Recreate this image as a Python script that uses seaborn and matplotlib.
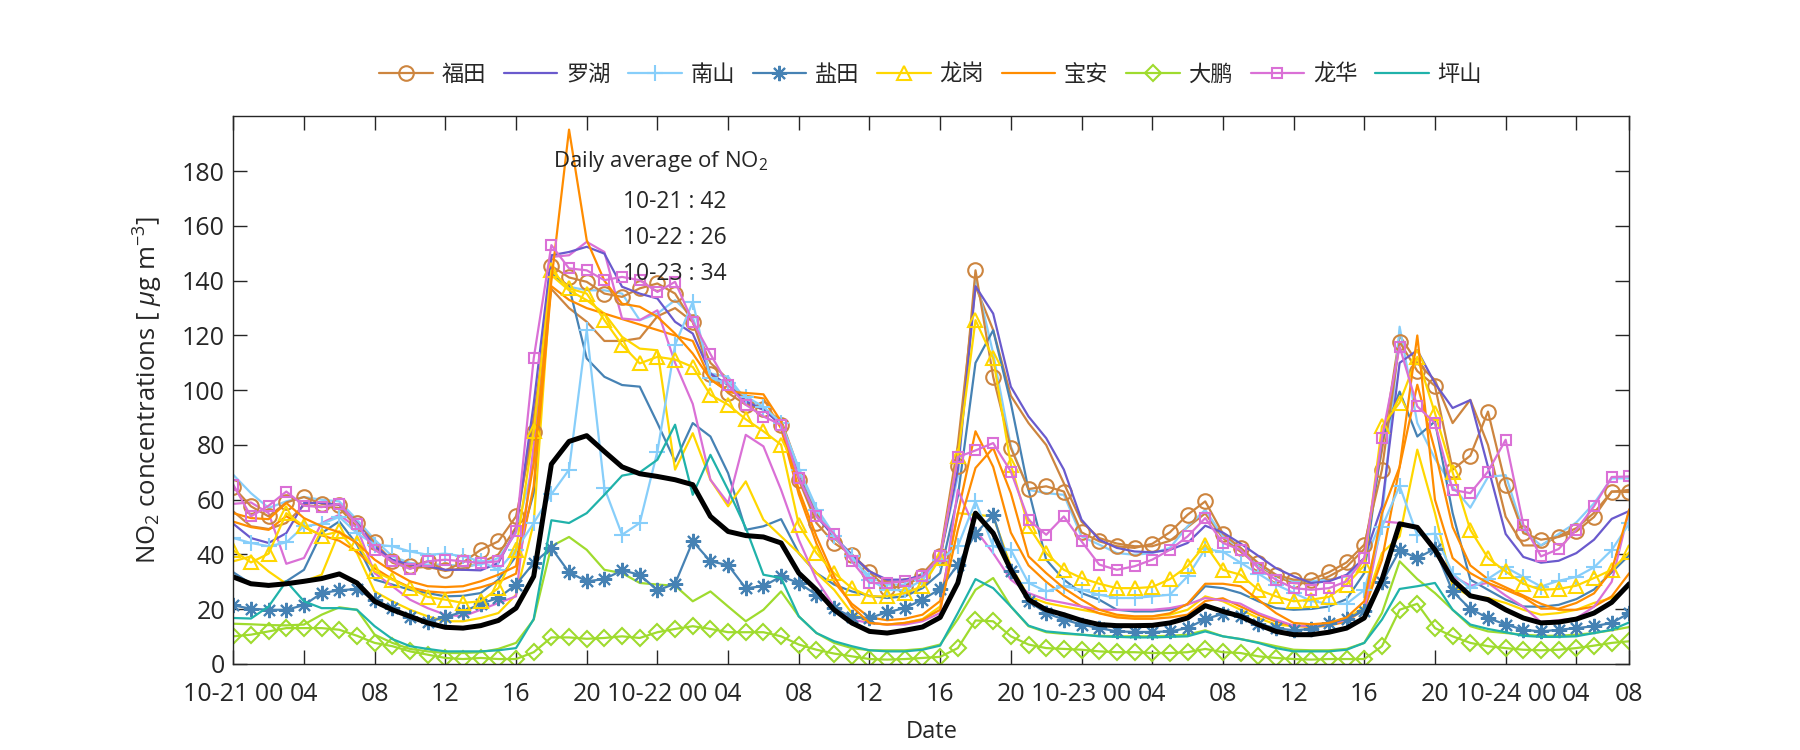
import matplotlib
matplotlib.use('Agg')
import matplotlib.pyplot as plt
from matplotlib import font_manager
import numpy as np
import seaborn as sns

# hourly NO2 (ug/m3), 10-21 00h .. 10-24 07h, one list per monitoring station
hours = list(range(80))

futian_1 = [64.6, 57.6, 53.9, 59.0, 61.0, 58.5, 58.2, 51.5, 44.4, 37.5, 35.7, 37.5, 34.2, 37.1, 41.7, 44.8, 53.9, 84.9, 145.4, 141.2, 139.6, 135.3, 134.1, 137.2,
            139.0, 135.3, 125.0, 106.1, 99.0, 94.7, 93.1, 87.4, 67.3, 51.5, 44.2, 39.9, 33.5, 27.7, 28.4, 32.3, 39.3, 72.2, 143.8, 104.9, 78.9, 63.9, 64.9, 63.0,
            48.1, 44.8, 43.0, 42.4, 43.9, 48.1, 54.5, 59.4, 47.6, 42.4, 36.9, 32.6, 30.8, 30.8, 33.5, 37.1, 43.6, 71.0, 117.7, 107.0, 101.6, 71.0, 76.1, 92.2,
            65.5, 47.8, 45.4, 46.4, 48.4, 53.7, 63.0, 62.8]
futian_2 = [55.7, 50.3, 49.3, 51.5, 58.0, 57.5, 57.0, 50.0, 43.0, 37.0, 35.0, 35.5, 34.0, 35.0, 37.0, 40.0, 50.0, 90.0, 137.0, 130.0, 125.0, 118.0, 118.0, 119.0,
            127.0, 130.0, 125.0, 110.0, 104.0, 95.3, 92.9, 89.2, 71.0, 55.1, 46.0, 40.0, 34.0, 30.0, 30.0, 33.0, 40.0, 80.0, 138.0, 122.0, 98.0, 88.0, 80.0, 66.0,
            52.0, 46.0, 44.0, 43.0, 43.0, 45.0, 50.0, 55.0, 46.0, 41.0, 36.0, 32.0, 29.5, 29.5, 32.0, 35.5, 42.0, 78.0, 120.0, 110.0, 103.7, 88.0, 96.5, 80.0,
            53.8, 43.3, 43.3, 46.8, 49.6, 55.2, 62.9, 63.6]
luohu_1 = [51.2, 46.0, 44.2, 47.8, 58.8, 58.8, 58.2, 51.5, 43.0, 38.1, 36.3, 35.7, 34.4, 34.4, 34.2, 36.9, 49.0, 95.0, 149.3, 150.5, 152.4, 149.9, 137.8, 135.3,
           133.5, 125.0, 120.7, 106.1, 101.9, 95.9, 92.9, 87.4, 68.5, 53.9, 46.6, 39.9, 33.8, 30.8, 30.8, 32.3, 38.7, 71.0, 138.0, 128.0, 101.3, 90.4, 82.5, 71.0,
           52.7, 45.4, 42.4, 41.1, 40.8, 41.7, 44.2, 50.5, 48.0, 44.0, 39.5, 35.0, 32.0, 29.6, 30.2, 32.6, 38.7, 57.6, 110.0, 114.6, 102.5, 93.5, 96.4, 72.0,
           47.5, 39.1, 37.0, 37.7, 40.5, 45.4, 53.0, 55.9]
nanshan_1 = [46.0, 44.2, 43.0, 44.4, 50.3, 51.2, 53.7, 47.8, 43.6, 43.0, 41.1, 39.9, 40.3, 39.3, 37.5, 34.4, 41.7, 51.5, 62.0, 71.0, 122.0, 64.3, 47.2, 51.5,
             77.6, 116.5, 132.3, 104.3, 102.6, 97.7, 94.0, 88.0, 71.0, 56.3, 46.6, 39.3, 30.8, 27.1, 26.9, 30.8, 38.1, 43.0, 59.4, 43.0, 41.7, 29.6, 26.5, 28.4,
             27.1, 25.3, 24.1, 24.1, 24.7, 25.3, 32.0, 42.0, 41.0, 37.0, 33.0, 29.0, 26.0, 23.0, 22.0, 22.0, 27.0, 50.0, 65.0, 47.0, 47.6, 33.0, 27.6, 31.1,
             35.3, 31.8, 28.3, 30.4, 31.8, 35.3, 41.6, 51.4]
nanshan_2 = [69.1, 62.4, 57.0, 59.4, 61.0, 60.0, 59.4, 52.7, 45.4, 39.3, 36.9, 36.3, 36.3, 35.7, 36.3, 38.7, 47.8, 73.4, 142.6, 137.8, 136.5, 136.5, 135.3, 125.6,
             128.0, 132.9, 126.8, 106.1, 104.9, 96.5, 93.5, 88.0, 71.6, 57.0, 47.2, 38.7, 32.0, 29.0, 29.0, 32.0, 39.3, 68.5, 141.4, 113.4, 79.5, 63.6, 62.4, 61.8,
             46.6, 43.6, 40.5, 39.9, 40.5, 42.4, 50.3, 56.3, 46.6, 42.4, 36.3, 32.6, 30.2, 30.2, 30.8, 32.0, 37.5, 52.7, 123.2, 88.0, 75.0, 64.8, 57.1, 68.3,
             69.0, 48.7, 43.3, 47.5, 51.7, 58.7, 67.8, 67.8]
yantian_1 = [21.4, 20.2, 19.8, 19.8, 21.5, 25.9, 26.9, 27.4, 23.2, 20.4, 17.2, 15.3, 17.2, 19.0, 22.0, 24.1, 29.0, 36.9, 42.4, 33.5, 30.2, 31.0, 34.2, 32.6,
             26.9, 29.3, 44.8, 37.5, 36.1, 27.7, 28.4, 32.0, 29.6, 25.3, 20.4, 17.2, 16.8, 18.9, 20.4, 23.5, 27.4, 36.3, 47.6, 54.5, 33.8, 22.9, 18.6, 16.2,
             14.4, 13.1, 11.9, 11.7, 11.7, 11.9, 13.1, 16.4, 18.3, 17.6, 14.7, 13.1, 12.3, 12.8, 15.0, 16.4, 19.5, 29.8, 41.5, 38.7, 42.1, 26.5, 20.1, 16.8,
             14.4, 12.5, 11.9, 12.5, 13.1, 13.8, 15.0, 18.6]
yantian_2 = [33.5, 29.3, 28.4, 30.2, 34.4, 47.8, 52.1, 43.6, 30.8, 29.0, 27.1, 25.9, 24.7, 24.9, 25.9, 30.8, 39.3, 62.4, 142.6, 137.8, 111.6, 104.9, 101.9, 101.3,
             88.0, 74.0, 88.0, 83.1, 69.7, 49.0, 50.3, 52.9, 40.5, 33.2, 29.0, 26.5, 24.9, 24.1, 24.7, 27.7, 33.2, 61.2, 110.0, 121.9, 95.3, 63.6, 38.1, 30.8,
             25.9, 23.5, 19.8, 19.2, 19.2, 19.8, 21.7, 28.4, 27.7, 25.9, 22.9, 20.4, 19.8, 20.1, 21.0, 23.7, 33.2, 81.9, 99.5, 83.1, 88.6, 55.1, 30.8, 27.1,
             23.5, 21.0, 20.9, 21.6, 23.7, 27.2, 33.5, 39.8]
longgang_1 = [41.5, 37.1, 40.3, 55.1, 50.3, 46.9, 48.4, 44.2, 33.8, 30.8, 27.7, 24.5, 23.5, 22.3, 22.9, 27.7, 41.7, 85.0, 143.8, 137.2, 135.3, 125.6, 116.5, 109.8,
              112.2, 111.2, 108.5, 98.3, 94.7, 89.4, 85.0, 80.1, 50.9, 40.5, 33.2, 27.7, 24.7, 24.7, 25.9, 28.4, 38.7, 75.8, 125.6, 111.6, 72.8, 50.3, 40.5, 34.4,
              31.4, 29.3, 27.7, 27.7, 28.1, 31.0, 35.7, 43.6, 34.4, 32.6, 27.1, 24.7, 22.9, 23.5, 24.5, 29.0, 36.0, 86.8, 95.5, 112.2, 91.6, 70.0, 49.0, 38.7,
              33.8, 29.3, 27.1, 27.4, 28.6, 31.4, 34.4, 40.8]
longgang_2 = [37.5, 39.3, 33.8, 29.3, 30.2, 32.6, 48.4, 40.5, 26.5, 22.9, 19.8, 17.4, 15.6, 15.6, 16.8, 18.6, 25.3, 51.5, 142.0, 136.5, 132.9, 128.0, 119.5, 115.2,
              114.6, 71.0, 84.3, 67.3, 57.6, 66.7, 52.7, 46.6, 40.5, 33.2, 27.1, 18.6, 15.0, 14.4, 15.0, 16.4, 21.0, 55.1, 54.5, 53.9, 35.7, 24.7, 22.3, 21.0,
              19.8, 18.6, 17.4, 17.2, 17.4, 18.0, 19.8, 24.7, 22.9, 19.8, 16.8, 14.4, 13.8, 13.8, 14.4, 16.2, 21.0, 40.5, 46.6, 78.3, 55.1, 28.4, 24.7, 24.1,
              22.3, 19.8, 18.0, 18.6, 19.8, 22.3, 24.1, 28.4]
baoan_1 = [55.1, 53.3, 52.9, 58.8, 53.3, 50.3, 48.1, 44.2, 38.1, 33.8, 30.2, 28.4, 28.1, 28.4, 30.2, 32.6, 35.7, 73.4, 140.0, 195.2, 154.8, 140.0, 131.6, 130.5,
           126.8, 120.7, 113.4, 104.0, 99.5, 99.0, 98.5, 88.6, 63.6, 46.6, 32.0, 21.0, 15.0, 14.4, 15.0, 16.2, 19.8, 49.0, 71.6, 78.9, 62.4, 39.3, 33.2, 27.7,
           23.5, 19.8, 18.0, 17.4, 17.4, 18.5, 22.0, 29.3, 29.3, 28.4, 23.5, 18.6, 15.0, 14.5, 15.0, 17.0, 22.9, 55.1, 72.0, 120.0, 60.0, 38.7, 33.2, 29.6,
           27.1, 24.4, 20.2, 20.2, 22.3, 25.8, 34.2, 56.5]
baoan_2 = [52.0, 50.0, 49.0, 54.0, 50.0, 47.0, 45.0, 41.0, 35.0, 31.0, 28.0, 26.5, 26.0, 26.5, 28.0, 30.0, 33.0, 65.0, 138.0, 133.0, 130.0, 128.0, 126.0, 124.0,
           122.0, 120.0, 118.0, 104.0, 99.5, 98.0, 97.0, 86.0, 62.0, 44.0, 30.0, 22.0, 17.0, 16.0, 16.5, 18.0, 23.0, 55.0, 85.0, 72.0, 48.0, 36.0, 30.0, 25.0,
           21.0, 18.5, 17.0, 16.5, 16.5, 17.0, 18.0, 23.0, 24.0, 21.0, 18.0, 15.5, 14.0, 13.5, 14.0, 15.5, 20.0, 38.0, 72.0, 102.0, 78.0, 50.0, 36.0, 31.0,
           28.0, 25.0, 22.0, 19.8, 19.8, 21.0, 24.7, 33.2]
dapeng_1 = [10.1, 10.7, 11.9, 13.1, 13.1, 13.1, 12.5, 10.3, 7.7, 6.5, 4.6, 3.4, 2.2, 1.8, 2.2, 1.8, 1.8, 4.3, 9.7, 9.7, 9.2, 9.5, 10.1, 9.5,
            11.6, 12.8, 13.8, 12.8, 11.6, 11.6, 11.6, 10.1, 7.1, 5.2, 3.8, 2.8, 1.8, 1.6, 1.8, 2.2, 2.6, 5.8, 15.9, 15.6, 10.1, 7.1, 5.8, 5.5,
            5.2, 4.6, 4.3, 4.3, 4.0, 4.0, 4.3, 5.5, 4.3, 4.0, 2.8, 2.2, 1.8, 1.6, 1.8, 1.8, 1.8, 6.5, 19.8, 22.0, 13.1, 10.1, 7.7, 6.5,
            5.8, 5.2, 5.0, 5.2, 5.8, 6.7, 7.7, 8.3]
dapeng_2 = [14.7, 14.5, 14.2, 14.1, 14.4, 18.0, 20.7, 19.8, 10.7, 7.7, 5.5, 4.6, 4.0, 4.0, 4.3, 5.5, 7.7, 16.2, 43.0, 46.4, 41.7, 34.4, 33.2, 29.6,
            29.0, 28.6, 22.9, 26.5, 21.0, 15.6, 19.8, 26.5, 17.4, 11.3, 7.7, 5.8, 5.0, 5.0, 5.0, 5.5, 7.1, 16.4, 27.1, 31.4, 21.0, 13.8, 11.6, 11.0,
            10.7, 10.3, 10.1, 10.1, 10.1, 10.3, 10.7, 12.3, 10.1, 9.1, 7.9, 6.5, 5.2, 5.0, 5.0, 5.5, 7.7, 18.6, 37.5, 31.0, 25.9, 19.8, 13.8, 11.9,
            11.3, 10.7, 10.3, 10.3, 10.7, 11.3, 12.3, 13.5]
longhua_1 = [65.5, 53.9, 57.8, 63.0, 57.8, 57.3, 58.5, 51.2, 41.7, 37.5, 34.7, 37.5, 38.1, 37.5, 36.9, 37.5, 48.4, 111.6, 153.0, 144.5, 143.8, 140.2, 141.4, 140.2,
             135.9, 139.6, 125.0, 113.2, 101.9, 94.7, 90.4, 87.4, 68.0, 53.9, 47.6, 37.5, 29.6, 29.6, 30.2, 32.0, 39.3, 75.6, 78.0, 80.7, 70.3, 52.7, 47.2, 53.9,
             44.8, 36.3, 34.4, 35.7, 38.1, 41.7, 46.6, 53.3, 44.2, 41.7, 35.0, 30.8, 27.7, 27.1, 27.7, 30.2, 38.7, 82.5, 115.9, 94.1, 88.0, 63.6, 62.4, 70.3,
             81.9, 50.9, 39.3, 42.0, 49.0, 57.6, 68.3, 68.5]
longhua_2 = [58.5, 59.0, 55.1, 36.6, 38.7, 51.5, 54.5, 49.7, 33.2, 28.4, 23.5, 20.4, 18.0, 17.4, 19.8, 22.3, 24.7, 80.0, 148.7, 149.3, 154.2, 150.5, 126.2, 125.6,
             129.2, 110.0, 95.0, 67.3, 58.8, 83.7, 79.5, 63.6, 45.4, 30.8, 21.0, 16.2, 15.0, 14.4, 14.4, 15.6, 18.6, 63.6, 49.0, 40.5, 30.8, 25.9, 23.5, 22.3,
             21.0, 19.8, 19.8, 19.8, 19.8, 20.4, 21.7, 24.1, 23.2, 22.0, 18.6, 16.2, 14.0, 14.0, 14.4, 16.2, 19.8, 52.1, 51.5, 50.3, 42.4, 32.1, 28.6, 29.6,
             25.0, 20.9, 15.3, 16.0, 16.7, 20.9, 30.0, 56.5]
pingshan_1 = [16.8, 16.6, 21.0, 30.2, 22.9, 20.4, 20.4, 19.8, 13.8, 9.1, 6.5, 5.5, 4.6, 4.6, 4.6, 5.0, 5.8, 16.4, 52.5, 51.5, 55.1, 61.8, 68.8, 70.0,
              74.6, 87.4, 61.8, 76.4, 63.6, 49.7, 32.6, 31.4, 17.4, 11.3, 8.3, 6.5, 5.0, 4.6, 4.6, 5.2, 6.7, 18.6, 31.0, 27.7, 21.0, 14.0, 11.9, 11.3,
              10.7, 10.1, 9.9, 9.7, 9.7, 9.9, 10.1, 11.9, 10.1, 9.1, 7.7, 5.8, 4.6, 4.6, 4.6, 5.2, 7.7, 16.2, 27.4, 28.4, 29.6, 19.8, 14.4, 12.8,
              11.6, 10.3, 9.9, 9.9, 10.1, 11.3, 12.5, 15.2]
city_avg = [31.8, 29.3, 28.7, 29.3, 30.2, 31.2, 32.9, 29.6, 22.9, 19.8, 17.4, 15.0, 13.4, 13.1, 14.0, 15.9, 20.4, 32.0, 73.0, 81.3, 83.4, 77.6, 72.0, 69.5,
            68.5, 67.3, 65.5, 53.9, 48.4, 46.9, 46.4, 44.2, 33.2, 27.1, 19.8, 15.0, 11.9, 11.3, 12.3, 13.5, 17.0, 29.6, 55.1, 47.8, 34.4, 23.5, 19.8, 18.0,
            15.9, 14.4, 14.0, 14.0, 14.1, 15.0, 16.8, 21.3, 19.2, 17.4, 14.4, 11.9, 10.7, 10.7, 11.6, 13.1, 16.8, 30.8, 51.2, 49.9, 41.7, 30.8, 24.9, 23.5,
            19.8, 16.8, 15.0, 15.3, 16.4, 18.6, 22.5, 29.3]

districts = ['福田', '罗湖', '南山', '盐田', '龙岗', '宝安', '大鹏', '龙华', '坪山']
daily_dates = ['10-21', '10-22', '10-23']
daily_means = [42, 26, 34]

tick_hours = [0, 4, 8, 12, 16, 20, 24, 28, 32, 36, 40, 44, 48, 52, 56, 60, 64, 68, 72, 76, 79]
tick_labels = ['10-21 00', '04', '08', '12', '16', '20', '10-22 00', '04', '08', '12', '16', '20',
               '10-23 00', '04', '08', '12', '16', '20', '10-24 00', '04', '08']

# district -> colour, marker, marker size for the first station
asterisk = (8, 2, 0)
style = {
    '福田': ('#CD853F', 'o', 10.5),
    '罗湖': ('#6A5ACD', None, 0),
    '南山': ('#87CEFA', '+', 12),
    '盐田': ('#4682B4', asterisk, 11),
    '龙岗': ('#FFD700', '^', 10.5),
    '宝安': ('#FF8C00', None, 0),
    '大鹏': ('#9FDB2E', 'D', 8.5),
    '龙华': ('#DA70D6', 's', 7.5),
    '坪山': ('#20B2AA', None, 0),
}
stations_plain = [('福田', futian_2), ('南山', nanshan_2), ('盐田', yantian_2), ('龙岗', longgang_2),
                  ('宝安', baoan_2), ('大鹏', dapeng_2), ('龙华', longhua_2)]
stations_main = [('福田', futian_1), ('罗湖', luohu_1), ('南山', nanshan_1), ('盐田', yantian_1),
                 ('龙岗', longgang_1), ('宝安', baoan_1), ('大鹏', dapeng_1), ('龙华', longhua_1),
                 ('坪山', pingshan_1)]

sns.set_theme(style='ticks')
names = {f.name for f in font_manager.fontManager.ttflist}
latin = 'Open Sans' if 'Open Sans' in names else 'Liberation Sans'
plt.rcParams['font.family'] = [latin, 'Noto Sans CJK SC', 'DejaVu Sans']
plt.rcParams['mathtext.fontset'] = 'custom'
plt.rcParams['mathtext.rm'] = latin
plt.rcParams['mathtext.it'] = latin + ':italic'
plt.rcParams['axes.unicode_minus'] = False

fig = plt.figure(figsize=(18, 7.5), dpi=100)
ax = fig.add_axes([0.1296, 0.1147, 0.7756, 0.730])

for d, vals in stations_plain:
    sns.lineplot(x=hours, y=vals, ax=ax, color=style[d][0], linewidth=1.6, errorbar=None, legend=False)

handles = {}
for d, vals in stations_main:
    c, m, ms = style[d]
    kw = dict(marker=m, markersize=ms, markerfacecolor='none', markeredgecolor=c, markeredgewidth=1.5) if m else {}
    sns.lineplot(x=hours, y=vals, ax=ax, color=c, linewidth=1.6, errorbar=None, legend=False, label=d, **kw)
    handles[d] = ax.lines[-1]

sns.lineplot(x=hours, y=city_avg, ax=ax, color='black', linewidth=3.6, errorbar=None, legend=False)

ax.set_xlim(0, 79)
ax.set_ylim(0, 200)
ax.set_xticks(tick_hours)
ax.set_xticklabels(tick_labels)
ax.set_yticks(range(0, 181, 20))
ax.tick_params(direction='in', length=10, width=1, top=True, right=True, labelsize=18, colors='#262626')
ax.tick_params(axis='x', pad=13)
ax.tick_params(axis='y', pad=6)
for sp in ax.spines.values():
    sp.set_visible(True)
    sp.set_linewidth(1)
    sp.set_color('#262626')

ax.set_xlabel('Date', fontsize=17, color='#262626', labelpad=9)
ax.set_ylabel(r'NO$_2$ concentrations [ $\mu$g m$^{-3}$]', fontsize=18.5, color='#262626', labelpad=12)

ax.text(18.1, 183.5, 'Daily average of NO$_2$', fontsize=16, va='center', ha='left')
for i, (dt, mv) in enumerate(zip(daily_dates, daily_means)):
    ax.text(22.05, 168.8 - i * 13.1, f'{dt} : {mv}', fontsize=16.5, va='center', ha='left')

fig.legend([handles[d] for d in districts], districts, loc='center', ncol=9, frameon=False,
           bbox_to_anchor=(0.517, 0.9), fontsize=16, handlelength=2.4, columnspacing=0.8,
           handletextpad=0.4)

fig.savefig('out.png', dpi=100)
